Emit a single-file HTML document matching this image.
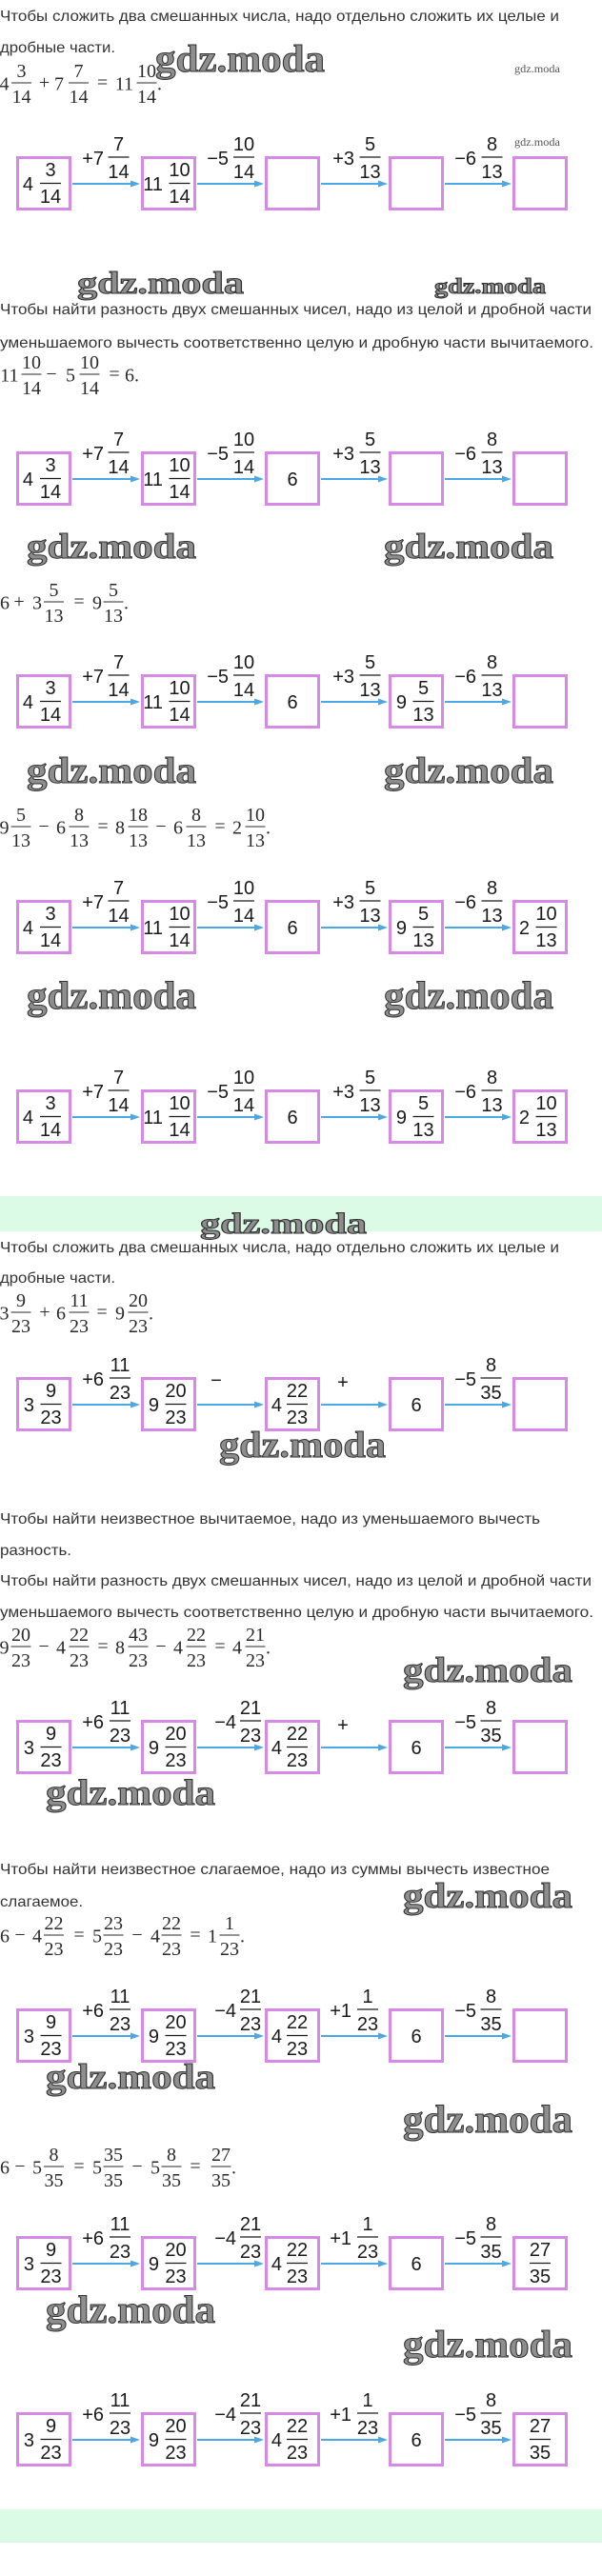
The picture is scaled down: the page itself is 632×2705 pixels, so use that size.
<!DOCTYPE html>
<html><head><meta charset="utf-8"><style>
body{margin:0;background:#fff}
svg{display:block}
.p{font-family:"Liberation Sans",sans-serif;font-size:16px;fill:#333}
.m{font-family:"Liberation Serif",serif;font-size:20px;fill:#2a2a2a}
.d{font-family:"Liberation Sans",sans-serif;font-size:20px;fill:#1a1a1a}
.bx{fill:none;stroke:#d68ae6;stroke-width:3}
.ar{stroke:#4aa8e6;stroke-width:2}
.ah{fill:#4aa8e6}
.fb{stroke:#1a1a1a;stroke-width:1.3}
.mb{stroke:#2a2a2a;stroke-width:1}
.w{font-family:"Liberation Serif",serif;font-weight:bold;fill:#8e8e8e;stroke:#303030;stroke-width:1}
.ws{font-family:"Liberation Serif",serif;font-size:12px;fill:#555}
.e{text-anchor:end}.c{text-anchor:middle}
</style></head><body>
<svg width="632" height="2705" viewBox="0 0 632 2705" xmlns="http://www.w3.org/2000/svg">
<rect x="0" y="0" width="632" height="2705" fill="#fff"/>
<rect x="0" y="1256" width="632" height="37" fill="#dcfbe6"/>
<rect x="0" y="2635" width="632" height="35" fill="#dcfbe6"/>

<!-- Paragraph text -->
<text class="p" x="0" y="22" textLength="587" lengthAdjust="spacingAndGlyphs">Чтобы сложить два смешанных числа, надо отдельно сложить их целые и</text>
<text class="p" x="0" y="55" textLength="121" lengthAdjust="spacingAndGlyphs">дробные части.</text>
<text class="p" x="0" y="330" textLength="621" lengthAdjust="spacingAndGlyphs">Чтобы найти разность двух смешанных чисел, надо из целой и дробной части</text>
<text class="p" x="0" y="365" textLength="623" lengthAdjust="spacingAndGlyphs">уменьшаемого вычесть соответственно целую и дробную части вычитаемого.</text>
<text class="p" x="0" y="1315" textLength="587" lengthAdjust="spacingAndGlyphs">Чтобы сложить два смешанных числа, надо отдельно сложить их целые и</text>
<text class="p" x="0" y="1347" textLength="121" lengthAdjust="spacingAndGlyphs">дробные части.</text>
<text class="p" x="0" y="1600" textLength="567" lengthAdjust="spacingAndGlyphs">Чтобы найти неизвестное вычитаемое, надо из уменьшаемого вычесть</text>
<text class="p" x="0" y="1633" textLength="75" lengthAdjust="spacingAndGlyphs">разность.</text>
<text class="p" x="0" y="1665" textLength="621" lengthAdjust="spacingAndGlyphs">Чтобы найти разность двух смешанных чисел, надо из целой и дробной части</text>
<text class="p" x="0" y="1698" textLength="623" lengthAdjust="spacingAndGlyphs">уменьшаемого вычесть соответственно целую и дробную части вычитаемого.</text>
<text class="p" x="0" y="1968" textLength="577" lengthAdjust="spacingAndGlyphs">Чтобы найти неизвестное слагаемое, надо из суммы вычесть известное</text>
<text class="p" x="0" y="2002" textLength="87" lengthAdjust="spacingAndGlyphs">слагаемое.</text>

<!-- Formula 1 -->
<g transform="translate(0,87)">
<text class="m e" x="9.5" y="7.5">4</text>
<text class="m c" x="22.5" y="-6">3</text><line class="mb" x1="12" y1="0" x2="33" y2="0"/><text class="m c" x="22.5" y="21">14</text>
<text class="m c" x="46.5" y="6">+</text>
<text class="m e" x="67" y="7.5">7</text>
<text class="m c" x="82.5" y="-6">7</text><line class="mb" x1="72" y1="0" x2="93" y2="0"/><text class="m c" x="82.5" y="21">14</text>
<text class="m c" x="107.5" y="6">=</text>
<text class="m e" x="140" y="7.5">11</text>
<text class="m c" x="154" y="-6">10</text><line class="mb" x1="143.5" y1="0" x2="164.5" y2="0"/><text class="m c" x="154" y="21">14</text>
<text class="m" x="165" y="7.5">.</text>
</g>

<!-- Formula 2 -->
<g transform="translate(0,393)">
<text class="m e" x="19.5" y="7.5">11</text>
<text class="m c" x="33" y="-6">10</text><line class="mb" x1="22.5" y1="0" x2="43.5" y2="0"/><text class="m c" x="33" y="21">14</text>
<text class="m c" x="54" y="6">−</text>
<text class="m e" x="79" y="7.5">5</text>
<text class="m c" x="94" y="-6">10</text><line class="mb" x1="83.5" y1="0" x2="104.5" y2="0"/><text class="m c" x="94" y="21">14</text>
<text class="m c" x="120" y="6">=</text>
<text class="m" x="131" y="7.5">6.</text>
</g>

<!-- Formula 3 -->
<g transform="translate(0,632)">
<text class="m e" x="10" y="7.5">6</text>
<text class="m c" x="20" y="6">+</text>
<text class="m e" x="44" y="7.5">3</text>
<text class="m c" x="56.5" y="-6">5</text><line class="mb" x1="46" y1="0" x2="67" y2="0"/><text class="m c" x="56.5" y="21">13</text>
<text class="m c" x="83" y="6">=</text>
<text class="m e" x="107" y="7.5">9</text>
<text class="m c" x="119" y="-6">5</text><line class="mb" x1="108.5" y1="0" x2="129.5" y2="0"/><text class="m c" x="119" y="21">13</text>
<text class="m" x="130" y="7.5">.</text>
</g>

<!-- Formula 4 -->
<g transform="translate(0,868)">
<text class="m e" x="9.5" y="7.5">9</text>
<text class="m c" x="22" y="-6">5</text><line class="mb" x1="11.5" y1="0" x2="32.5" y2="0"/><text class="m c" x="22" y="21">13</text>
<text class="m c" x="46" y="6">−</text>
<text class="m e" x="69" y="7.5">6</text>
<text class="m c" x="83" y="-6">8</text><line class="mb" x1="72.5" y1="0" x2="93.5" y2="0"/><text class="m c" x="83" y="21">13</text>
<text class="m c" x="108" y="6">=</text>
<text class="m e" x="131" y="7.5">8</text>
<text class="m c" x="145" y="-6">18</text><line class="mb" x1="134.5" y1="0" x2="155.5" y2="0"/><text class="m c" x="145" y="21">13</text>
<text class="m c" x="169" y="6">−</text>
<text class="m e" x="192" y="7.5">6</text>
<text class="m c" x="206" y="-6">8</text><line class="mb" x1="195.5" y1="0" x2="216.5" y2="0"/><text class="m c" x="206" y="21">13</text>
<text class="m c" x="231" y="6">=</text>
<text class="m e" x="254" y="7.5">2</text>
<text class="m c" x="268" y="-6">10</text><line class="mb" x1="257.5" y1="0" x2="278.5" y2="0"/><text class="m c" x="268" y="21">13</text>
<text class="m" x="279" y="7.5">.</text>
</g>

<!-- Formula 5 -->
<g transform="translate(0,1378)">
<text class="m e" x="9.5" y="7.5">3</text>
<text class="m c" x="22" y="-6">9</text><line class="mb" x1="11.5" y1="0" x2="32.5" y2="0"/><text class="m c" x="22" y="21">23</text>
<text class="m c" x="47" y="6">+</text>
<text class="m e" x="69" y="7.5">6</text>
<text class="m c" x="83" y="-6">11</text><line class="mb" x1="72.5" y1="0" x2="93.5" y2="0"/><text class="m c" x="83" y="21">23</text>
<text class="m c" x="107" y="6">=</text>
<text class="m e" x="131" y="7.5">9</text>
<text class="m c" x="145" y="-6">20</text><line class="mb" x1="134.5" y1="0" x2="155.5" y2="0"/><text class="m c" x="145" y="21">23</text>
<text class="m" x="156" y="7.5">.</text>
</g>

<!-- Formula 6 -->
<g transform="translate(0,1729)">
<text class="m e" x="9.5" y="7.5">9</text>
<text class="m c" x="22" y="-6">20</text><line class="mb" x1="11.5" y1="0" x2="32.5" y2="0"/><text class="m c" x="22" y="21">23</text>
<text class="m c" x="46" y="6">−</text>
<text class="m e" x="69" y="7.5">4</text>
<text class="m c" x="83" y="-6">22</text><line class="mb" x1="72.5" y1="0" x2="93.5" y2="0"/><text class="m c" x="83" y="21">23</text>
<text class="m c" x="108" y="6">=</text>
<text class="m e" x="131" y="7.5">8</text>
<text class="m c" x="145" y="-6">43</text><line class="mb" x1="134.5" y1="0" x2="155.5" y2="0"/><text class="m c" x="145" y="21">23</text>
<text class="m c" x="169" y="6">−</text>
<text class="m e" x="192" y="7.5">4</text>
<text class="m c" x="206" y="-6">22</text><line class="mb" x1="195.5" y1="0" x2="216.5" y2="0"/><text class="m c" x="206" y="21">23</text>
<text class="m c" x="231" y="6">=</text>
<text class="m e" x="254" y="7.5">4</text>
<text class="m c" x="268" y="-6">21</text><line class="mb" x1="257.5" y1="0" x2="278.5" y2="0"/><text class="m c" x="268" y="21">23</text>
<text class="m" x="279" y="7.5">.</text>
</g>

<!-- Formula 7 -->
<g transform="translate(0,2032)">
<text class="m e" x="10" y="7.5">6</text>
<text class="m c" x="21" y="6">−</text>
<text class="m e" x="44" y="7.5">4</text>
<text class="m c" x="56.5" y="-6">22</text><line class="mb" x1="46" y1="0" x2="67" y2="0"/><text class="m c" x="56.5" y="21">23</text>
<text class="m c" x="83" y="6">=</text>
<text class="m e" x="107" y="7.5">5</text>
<text class="m c" x="119" y="-6">23</text><line class="mb" x1="108.5" y1="0" x2="129.5" y2="0"/><text class="m c" x="119" y="21">23</text>
<text class="m c" x="144" y="6">−</text>
<text class="m e" x="168" y="7.5">4</text>
<text class="m c" x="180" y="-6">22</text><line class="mb" x1="169.5" y1="0" x2="190.5" y2="0"/><text class="m c" x="180" y="21">23</text>
<text class="m c" x="205" y="6">=</text>
<text class="m e" x="228" y="7.5">1</text>
<text class="m c" x="241" y="-6">1</text><line class="mb" x1="230.5" y1="0" x2="251.5" y2="0"/><text class="m c" x="241" y="21">23</text>
<text class="m" x="252" y="7.5">.</text>
</g>

<!-- Formula 8 -->
<g transform="translate(0,2275)">
<text class="m e" x="10" y="7.5">6</text>
<text class="m c" x="21" y="6">−</text>
<text class="m e" x="44" y="7.5">5</text>
<text class="m c" x="56.5" y="-6">8</text><line class="mb" x1="46" y1="0" x2="67" y2="0"/><text class="m c" x="56.5" y="21">35</text>
<text class="m c" x="83" y="6">=</text>
<text class="m e" x="107" y="7.5">5</text>
<text class="m c" x="119" y="-6">35</text><line class="mb" x1="108.5" y1="0" x2="129.5" y2="0"/><text class="m c" x="119" y="21">35</text>
<text class="m c" x="144" y="6">−</text>
<text class="m e" x="168" y="7.5">5</text>
<text class="m c" x="180" y="-6">8</text><line class="mb" x1="169.5" y1="0" x2="190.5" y2="0"/><text class="m c" x="180" y="21">35</text>
<text class="m c" x="205" y="6">=</text>
<text class="m c" x="232" y="-6">27</text><line class="mb" x1="221.5" y1="0" x2="242.5" y2="0"/><text class="m c" x="232" y="21">35</text>
<text class="m" x="243" y="7.5">.</text>
</g>

<!-- ROW 1 -->
<g transform="translate(0,164)">
<rect class="bx" x="18.5" y="1.5" width="55" height="54"/><rect class="bx" x="149.5" y="1.5" width="55" height="54"/><rect class="bx" x="279.5" y="1.5" width="55" height="54"/><rect class="bx" x="409.5" y="1.5" width="55" height="54"/><rect class="bx" x="539.5" y="1.5" width="55" height="54"/>
<line class="ar" x1="76" y1="29" x2="139" y2="29"/><polygon class="ah" points="137,25.5 147,29 137,32.5"/>
<line class="ar" x1="207" y1="29" x2="269" y2="29"/><polygon class="ah" points="267,25.5 277,29 267,32.5"/>
<line class="ar" x1="337" y1="29" x2="399" y2="29"/><polygon class="ah" points="397,25.5 407,29 397,32.5"/>
<line class="ar" x1="467" y1="29" x2="529" y2="29"/><polygon class="ah" points="527,25.5 537,29 527,32.5"/>
<text class="d e" x="109" y="9">+7</text><text class="d c" x="124.5" y="-6">7</text><line class="fb" x1="113.5" y1="1" x2="135.5" y2="1"/><text class="d c" x="124.5" y="23">14</text>
<text class="d e" x="240" y="9">−5</text><text class="d c" x="256" y="-6">10</text><line class="fb" x1="245" y1="1" x2="267" y2="1"/><text class="d c" x="256" y="23">14</text>
<text class="d e" x="372" y="9">+3</text><text class="d c" x="388.5" y="-6">5</text><line class="fb" x1="377.5" y1="1" x2="399.5" y2="1"/><text class="d c" x="388.5" y="23">13</text>
<text class="d e" x="500" y="9">−6</text><text class="d c" x="516.5" y="-6">8</text><line class="fb" x1="505.5" y1="1" x2="527.5" y2="1"/><text class="d c" x="516.5" y="23">13</text>
<text class="d e" x="35" y="36">4</text><text class="d c" x="53" y="21">3</text><line class="fb" x1="42" y1="28.5" x2="64" y2="28.5"/><text class="d c" x="53" y="49">14</text>
<text class="d e" x="171" y="36">11</text><text class="d c" x="188.5" y="21">10</text><line class="fb" x1="177.5" y1="28.5" x2="199.5" y2="28.5"/><text class="d c" x="188.5" y="49">14</text>
</g>

<!-- ROW 2 -->
<g transform="translate(0,474)">
<rect class="bx" x="18.5" y="1.5" width="55" height="54"/><rect class="bx" x="149.5" y="1.5" width="55" height="54"/><rect class="bx" x="279.5" y="1.5" width="55" height="54"/><rect class="bx" x="409.5" y="1.5" width="55" height="54"/><rect class="bx" x="539.5" y="1.5" width="55" height="54"/>
<line class="ar" x1="76" y1="29" x2="139" y2="29"/><polygon class="ah" points="137,25.5 147,29 137,32.5"/>
<line class="ar" x1="207" y1="29" x2="269" y2="29"/><polygon class="ah" points="267,25.5 277,29 267,32.5"/>
<line class="ar" x1="337" y1="29" x2="399" y2="29"/><polygon class="ah" points="397,25.5 407,29 397,32.5"/>
<line class="ar" x1="467" y1="29" x2="529" y2="29"/><polygon class="ah" points="527,25.5 537,29 527,32.5"/>
<text class="d e" x="109" y="9">+7</text><text class="d c" x="124.5" y="-6">7</text><line class="fb" x1="113.5" y1="1" x2="135.5" y2="1"/><text class="d c" x="124.5" y="23">14</text>
<text class="d e" x="240" y="9">−5</text><text class="d c" x="256" y="-6">10</text><line class="fb" x1="245" y1="1" x2="267" y2="1"/><text class="d c" x="256" y="23">14</text>
<text class="d e" x="372" y="9">+3</text><text class="d c" x="388.5" y="-6">5</text><line class="fb" x1="377.5" y1="1" x2="399.5" y2="1"/><text class="d c" x="388.5" y="23">13</text>
<text class="d e" x="500" y="9">−6</text><text class="d c" x="516.5" y="-6">8</text><line class="fb" x1="505.5" y1="1" x2="527.5" y2="1"/><text class="d c" x="516.5" y="23">13</text>
<text class="d e" x="35" y="36">4</text><text class="d c" x="53" y="21">3</text><line class="fb" x1="42" y1="28.5" x2="64" y2="28.5"/><text class="d c" x="53" y="49">14</text>
<text class="d e" x="171" y="36">11</text><text class="d c" x="188.5" y="21">10</text><line class="fb" x1="177.5" y1="28.5" x2="199.5" y2="28.5"/><text class="d c" x="188.5" y="49">14</text>
<text class="d c" x="307" y="36">6</text>
</g>

<!-- ROW 3 -->
<g transform="translate(0,708)">
<rect class="bx" x="18.5" y="1.5" width="55" height="54"/><rect class="bx" x="149.5" y="1.5" width="55" height="54"/><rect class="bx" x="279.5" y="1.5" width="55" height="54"/><rect class="bx" x="409.5" y="1.5" width="55" height="54"/><rect class="bx" x="539.5" y="1.5" width="55" height="54"/>
<line class="ar" x1="76" y1="29" x2="139" y2="29"/><polygon class="ah" points="137,25.5 147,29 137,32.5"/>
<line class="ar" x1="207" y1="29" x2="269" y2="29"/><polygon class="ah" points="267,25.5 277,29 267,32.5"/>
<line class="ar" x1="337" y1="29" x2="399" y2="29"/><polygon class="ah" points="397,25.5 407,29 397,32.5"/>
<line class="ar" x1="467" y1="29" x2="529" y2="29"/><polygon class="ah" points="527,25.5 537,29 527,32.5"/>
<text class="d e" x="109" y="9">+7</text><text class="d c" x="124.5" y="-6">7</text><line class="fb" x1="113.5" y1="1" x2="135.5" y2="1"/><text class="d c" x="124.5" y="23">14</text>
<text class="d e" x="240" y="9">−5</text><text class="d c" x="256" y="-6">10</text><line class="fb" x1="245" y1="1" x2="267" y2="1"/><text class="d c" x="256" y="23">14</text>
<text class="d e" x="372" y="9">+3</text><text class="d c" x="388.5" y="-6">5</text><line class="fb" x1="377.5" y1="1" x2="399.5" y2="1"/><text class="d c" x="388.5" y="23">13</text>
<text class="d e" x="500" y="9">−6</text><text class="d c" x="516.5" y="-6">8</text><line class="fb" x1="505.5" y1="1" x2="527.5" y2="1"/><text class="d c" x="516.5" y="23">13</text>
<text class="d e" x="35" y="36">4</text><text class="d c" x="53" y="21">3</text><line class="fb" x1="42" y1="28.5" x2="64" y2="28.5"/><text class="d c" x="53" y="49">14</text>
<text class="d e" x="171" y="36">11</text><text class="d c" x="188.5" y="21">10</text><line class="fb" x1="177.5" y1="28.5" x2="199.5" y2="28.5"/><text class="d c" x="188.5" y="49">14</text>
<text class="d c" x="307" y="36">6</text>
<text class="d e" x="427" y="36">9</text><text class="d c" x="444.5" y="21">5</text><line class="fb" x1="433.5" y1="28.5" x2="455.5" y2="28.5"/><text class="d c" x="444.5" y="49">13</text>
</g>

<!-- ROW 4 -->
<g transform="translate(0,945)">
<rect class="bx" x="18.5" y="1.5" width="55" height="54"/><rect class="bx" x="149.5" y="1.5" width="55" height="54"/><rect class="bx" x="279.5" y="1.5" width="55" height="54"/><rect class="bx" x="409.5" y="1.5" width="55" height="54"/><rect class="bx" x="539.5" y="1.5" width="55" height="54"/>
<line class="ar" x1="76" y1="29" x2="139" y2="29"/><polygon class="ah" points="137,25.5 147,29 137,32.5"/>
<line class="ar" x1="207" y1="29" x2="269" y2="29"/><polygon class="ah" points="267,25.5 277,29 267,32.5"/>
<line class="ar" x1="337" y1="29" x2="399" y2="29"/><polygon class="ah" points="397,25.5 407,29 397,32.5"/>
<line class="ar" x1="467" y1="29" x2="529" y2="29"/><polygon class="ah" points="527,25.5 537,29 527,32.5"/>
<text class="d e" x="109" y="9">+7</text><text class="d c" x="124.5" y="-6">7</text><line class="fb" x1="113.5" y1="1" x2="135.5" y2="1"/><text class="d c" x="124.5" y="23">14</text>
<text class="d e" x="240" y="9">−5</text><text class="d c" x="256" y="-6">10</text><line class="fb" x1="245" y1="1" x2="267" y2="1"/><text class="d c" x="256" y="23">14</text>
<text class="d e" x="372" y="9">+3</text><text class="d c" x="388.5" y="-6">5</text><line class="fb" x1="377.5" y1="1" x2="399.5" y2="1"/><text class="d c" x="388.5" y="23">13</text>
<text class="d e" x="500" y="9">−6</text><text class="d c" x="516.5" y="-6">8</text><line class="fb" x1="505.5" y1="1" x2="527.5" y2="1"/><text class="d c" x="516.5" y="23">13</text>
<text class="d e" x="35" y="36">4</text><text class="d c" x="53" y="21">3</text><line class="fb" x1="42" y1="28.5" x2="64" y2="28.5"/><text class="d c" x="53" y="49">14</text>
<text class="d e" x="171" y="36">11</text><text class="d c" x="188.5" y="21">10</text><line class="fb" x1="177.5" y1="28.5" x2="199.5" y2="28.5"/><text class="d c" x="188.5" y="49">14</text>
<text class="d c" x="307" y="36">6</text>
<text class="d e" x="427" y="36">9</text><text class="d c" x="444.5" y="21">5</text><line class="fb" x1="433.5" y1="28.5" x2="455.5" y2="28.5"/><text class="d c" x="444.5" y="49">13</text>
<text class="d e" x="556" y="36">2</text><text class="d c" x="573.5" y="21">10</text><line class="fb" x1="562.5" y1="28.5" x2="584.5" y2="28.5"/><text class="d c" x="573.5" y="49">13</text>
</g>

<!-- ROW 5 -->
<g transform="translate(0,1144)">
<rect class="bx" x="18.5" y="1.5" width="55" height="54"/><rect class="bx" x="149.5" y="1.5" width="55" height="54"/><rect class="bx" x="279.5" y="1.5" width="55" height="54"/><rect class="bx" x="409.5" y="1.5" width="55" height="54"/><rect class="bx" x="539.5" y="1.5" width="55" height="54"/>
<line class="ar" x1="76" y1="29" x2="139" y2="29"/><polygon class="ah" points="137,25.5 147,29 137,32.5"/>
<line class="ar" x1="207" y1="29" x2="269" y2="29"/><polygon class="ah" points="267,25.5 277,29 267,32.5"/>
<line class="ar" x1="337" y1="29" x2="399" y2="29"/><polygon class="ah" points="397,25.5 407,29 397,32.5"/>
<line class="ar" x1="467" y1="29" x2="529" y2="29"/><polygon class="ah" points="527,25.5 537,29 527,32.5"/>
<text class="d e" x="109" y="9">+7</text><text class="d c" x="124.5" y="-6">7</text><line class="fb" x1="113.5" y1="1" x2="135.5" y2="1"/><text class="d c" x="124.5" y="23">14</text>
<text class="d e" x="240" y="9">−5</text><text class="d c" x="256" y="-6">10</text><line class="fb" x1="245" y1="1" x2="267" y2="1"/><text class="d c" x="256" y="23">14</text>
<text class="d e" x="372" y="9">+3</text><text class="d c" x="388.5" y="-6">5</text><line class="fb" x1="377.5" y1="1" x2="399.5" y2="1"/><text class="d c" x="388.5" y="23">13</text>
<text class="d e" x="500" y="9">−6</text><text class="d c" x="516.5" y="-6">8</text><line class="fb" x1="505.5" y1="1" x2="527.5" y2="1"/><text class="d c" x="516.5" y="23">13</text>
<text class="d e" x="35" y="36">4</text><text class="d c" x="53" y="21">3</text><line class="fb" x1="42" y1="28.5" x2="64" y2="28.5"/><text class="d c" x="53" y="49">14</text>
<text class="d e" x="171" y="36">11</text><text class="d c" x="188.5" y="21">10</text><line class="fb" x1="177.5" y1="28.5" x2="199.5" y2="28.5"/><text class="d c" x="188.5" y="49">14</text>
<text class="d c" x="307" y="36">6</text>
<text class="d e" x="427" y="36">9</text><text class="d c" x="444.5" y="21">5</text><line class="fb" x1="433.5" y1="28.5" x2="455.5" y2="28.5"/><text class="d c" x="444.5" y="49">13</text>
<text class="d e" x="556" y="36">2</text><text class="d c" x="573.5" y="21">10</text><line class="fb" x1="562.5" y1="28.5" x2="584.5" y2="28.5"/><text class="d c" x="573.5" y="49">13</text>
</g>

<!-- ROW 6 -->
<g transform="translate(0,1446)">
<rect class="bx" x="18.5" y="1.5" width="55" height="54"/><rect class="bx" x="149.5" y="1.5" width="55" height="54"/><rect class="bx" x="279.5" y="1.5" width="55" height="54"/><rect class="bx" x="409.5" y="1.5" width="55" height="54"/><rect class="bx" x="539.5" y="1.5" width="55" height="54"/>
<line class="ar" x1="76" y1="29" x2="139" y2="29"/><polygon class="ah" points="137,25.5 147,29 137,32.5"/>
<line class="ar" x1="207" y1="29" x2="269" y2="29"/><polygon class="ah" points="267,25.5 277,29 267,32.5"/>
<line class="ar" x1="337" y1="29" x2="399" y2="29"/><polygon class="ah" points="397,25.5 407,29 397,32.5"/>
<line class="ar" x1="467" y1="29" x2="529" y2="29"/><polygon class="ah" points="527,25.5 537,29 527,32.5"/>
<text class="d e" x="109" y="9">+6</text><text class="d c" x="126" y="-6">11</text><line class="fb" x1="115" y1="1" x2="137" y2="1"/><text class="d c" x="126" y="23">23</text>
<text class="d c" x="227" y="10">−</text>
<text class="d c" x="360" y="12">+</text>
<text class="d e" x="500" y="9">−5</text><text class="d c" x="515.5" y="-6">8</text><line class="fb" x1="504.5" y1="1" x2="526.5" y2="1"/><text class="d c" x="515.5" y="23">35</text>
<text class="d e" x="36" y="36">3</text><text class="d c" x="53.5" y="21">9</text><line class="fb" x1="42.5" y1="28.5" x2="64.5" y2="28.5"/><text class="d c" x="53.5" y="49">23</text>
<text class="d e" x="167" y="36">9</text><text class="d c" x="184.5" y="21">20</text><line class="fb" x1="173.5" y1="28.5" x2="195.5" y2="28.5"/><text class="d c" x="184.5" y="49">23</text>
<text class="d e" x="296" y="36">4</text><text class="d c" x="312" y="21">22</text><line class="fb" x1="301" y1="28.5" x2="323" y2="28.5"/><text class="d c" x="312" y="49">23</text>
<text class="d c" x="437" y="36">6</text>
</g>

<!-- ROW 7 -->
<g transform="translate(0,1806)">
<rect class="bx" x="18.5" y="1.5" width="55" height="54"/><rect class="bx" x="149.5" y="1.5" width="55" height="54"/><rect class="bx" x="279.5" y="1.5" width="55" height="54"/><rect class="bx" x="409.5" y="1.5" width="55" height="54"/><rect class="bx" x="539.5" y="1.5" width="55" height="54"/>
<line class="ar" x1="76" y1="29" x2="139" y2="29"/><polygon class="ah" points="137,25.5 147,29 137,32.5"/>
<line class="ar" x1="207" y1="29" x2="269" y2="29"/><polygon class="ah" points="267,25.5 277,29 267,32.5"/>
<line class="ar" x1="337" y1="29" x2="399" y2="29"/><polygon class="ah" points="397,25.5 407,29 397,32.5"/>
<line class="ar" x1="467" y1="29" x2="529" y2="29"/><polygon class="ah" points="527,25.5 537,29 527,32.5"/>
<text class="d e" x="109" y="9">+6</text><text class="d c" x="126" y="-6">11</text><line class="fb" x1="115" y1="1" x2="137" y2="1"/><text class="d c" x="126" y="23">23</text>
<text class="d e" x="248" y="9">−4</text><text class="d c" x="263" y="-6">21</text><line class="fb" x1="252" y1="1" x2="274" y2="1"/><text class="d c" x="263" y="23">23</text>
<text class="d c" x="360" y="12">+</text>
<text class="d e" x="500" y="9">−5</text><text class="d c" x="515.5" y="-6">8</text><line class="fb" x1="504.5" y1="1" x2="526.5" y2="1"/><text class="d c" x="515.5" y="23">35</text>
<text class="d e" x="36" y="36">3</text><text class="d c" x="53.5" y="21">9</text><line class="fb" x1="42.5" y1="28.5" x2="64.5" y2="28.5"/><text class="d c" x="53.5" y="49">23</text>
<text class="d e" x="167" y="36">9</text><text class="d c" x="184.5" y="21">20</text><line class="fb" x1="173.5" y1="28.5" x2="195.5" y2="28.5"/><text class="d c" x="184.5" y="49">23</text>
<text class="d e" x="296" y="36">4</text><text class="d c" x="312" y="21">22</text><line class="fb" x1="301" y1="28.5" x2="323" y2="28.5"/><text class="d c" x="312" y="49">23</text>
<text class="d c" x="437" y="36">6</text>
</g>

<!-- ROW 8 -->
<g transform="translate(0,2109)">
<rect class="bx" x="18.5" y="1.5" width="55" height="54"/><rect class="bx" x="149.5" y="1.5" width="55" height="54"/><rect class="bx" x="279.5" y="1.5" width="55" height="54"/><rect class="bx" x="409.5" y="1.5" width="55" height="54"/><rect class="bx" x="539.5" y="1.5" width="55" height="54"/>
<line class="ar" x1="76" y1="29" x2="139" y2="29"/><polygon class="ah" points="137,25.5 147,29 137,32.5"/>
<line class="ar" x1="207" y1="29" x2="269" y2="29"/><polygon class="ah" points="267,25.5 277,29 267,32.5"/>
<line class="ar" x1="337" y1="29" x2="399" y2="29"/><polygon class="ah" points="397,25.5 407,29 397,32.5"/>
<line class="ar" x1="467" y1="29" x2="529" y2="29"/><polygon class="ah" points="527,25.5 537,29 527,32.5"/>
<text class="d e" x="109" y="9">+6</text><text class="d c" x="126" y="-6">11</text><line class="fb" x1="115" y1="1" x2="137" y2="1"/><text class="d c" x="126" y="23">23</text>
<text class="d e" x="248" y="9">−4</text><text class="d c" x="263" y="-6">21</text><line class="fb" x1="252" y1="1" x2="274" y2="1"/><text class="d c" x="263" y="23">23</text>
<text class="d e" x="369" y="9">+1</text><text class="d c" x="386" y="-6">1</text><line class="fb" x1="375" y1="1" x2="397" y2="1"/><text class="d c" x="386" y="23">23</text>
<text class="d e" x="500" y="9">−5</text><text class="d c" x="515.5" y="-6">8</text><line class="fb" x1="504.5" y1="1" x2="526.5" y2="1"/><text class="d c" x="515.5" y="23">35</text>
<text class="d e" x="36" y="36">3</text><text class="d c" x="53.5" y="21">9</text><line class="fb" x1="42.5" y1="28.5" x2="64.5" y2="28.5"/><text class="d c" x="53.5" y="49">23</text>
<text class="d e" x="167" y="36">9</text><text class="d c" x="184.5" y="21">20</text><line class="fb" x1="173.5" y1="28.5" x2="195.5" y2="28.5"/><text class="d c" x="184.5" y="49">23</text>
<text class="d e" x="296" y="36">4</text><text class="d c" x="312" y="21">22</text><line class="fb" x1="301" y1="28.5" x2="323" y2="28.5"/><text class="d c" x="312" y="49">23</text>
<text class="d c" x="437" y="36">6</text>
</g>

<!-- ROW 9 -->
<g transform="translate(0,2348)">
<rect class="bx" x="18.5" y="1.5" width="55" height="54"/><rect class="bx" x="149.5" y="1.5" width="55" height="54"/><rect class="bx" x="279.5" y="1.5" width="55" height="54"/><rect class="bx" x="409.5" y="1.5" width="55" height="54"/><rect class="bx" x="539.5" y="1.5" width="55" height="54"/>
<line class="ar" x1="76" y1="29" x2="139" y2="29"/><polygon class="ah" points="137,25.5 147,29 137,32.5"/>
<line class="ar" x1="207" y1="29" x2="269" y2="29"/><polygon class="ah" points="267,25.5 277,29 267,32.5"/>
<line class="ar" x1="337" y1="29" x2="399" y2="29"/><polygon class="ah" points="397,25.5 407,29 397,32.5"/>
<line class="ar" x1="467" y1="29" x2="529" y2="29"/><polygon class="ah" points="527,25.5 537,29 527,32.5"/>
<text class="d e" x="109" y="9">+6</text><text class="d c" x="126" y="-6">11</text><line class="fb" x1="115" y1="1" x2="137" y2="1"/><text class="d c" x="126" y="23">23</text>
<text class="d e" x="248" y="9">−4</text><text class="d c" x="263" y="-6">21</text><line class="fb" x1="252" y1="1" x2="274" y2="1"/><text class="d c" x="263" y="23">23</text>
<text class="d e" x="369" y="9">+1</text><text class="d c" x="386" y="-6">1</text><line class="fb" x1="375" y1="1" x2="397" y2="1"/><text class="d c" x="386" y="23">23</text>
<text class="d e" x="500" y="9">−5</text><text class="d c" x="515.5" y="-6">8</text><line class="fb" x1="504.5" y1="1" x2="526.5" y2="1"/><text class="d c" x="515.5" y="23">35</text>
<text class="d e" x="36" y="36">3</text><text class="d c" x="53.5" y="21">9</text><line class="fb" x1="42.5" y1="28.5" x2="64.5" y2="28.5"/><text class="d c" x="53.5" y="49">23</text>
<text class="d e" x="167" y="36">9</text><text class="d c" x="184.5" y="21">20</text><line class="fb" x1="173.5" y1="28.5" x2="195.5" y2="28.5"/><text class="d c" x="184.5" y="49">23</text>
<text class="d e" x="296" y="36">4</text><text class="d c" x="312" y="21">22</text><line class="fb" x1="301" y1="28.5" x2="323" y2="28.5"/><text class="d c" x="312" y="49">23</text>
<text class="d c" x="437" y="36">6</text>
<text class="d c" x="567" y="21">27</text><line class="fb" x1="556" y1="28.5" x2="578" y2="28.5"/><text class="d c" x="567" y="49">35</text>
</g>

<!-- ROW 10 -->
<g transform="translate(0,2533)">
<rect class="bx" x="18.5" y="1.5" width="55" height="54"/><rect class="bx" x="149.5" y="1.5" width="55" height="54"/><rect class="bx" x="279.5" y="1.5" width="55" height="54"/><rect class="bx" x="409.5" y="1.5" width="55" height="54"/><rect class="bx" x="539.5" y="1.5" width="55" height="54"/>
<line class="ar" x1="76" y1="29" x2="139" y2="29"/><polygon class="ah" points="137,25.5 147,29 137,32.5"/>
<line class="ar" x1="207" y1="29" x2="269" y2="29"/><polygon class="ah" points="267,25.5 277,29 267,32.5"/>
<line class="ar" x1="337" y1="29" x2="399" y2="29"/><polygon class="ah" points="397,25.5 407,29 397,32.5"/>
<line class="ar" x1="467" y1="29" x2="529" y2="29"/><polygon class="ah" points="527,25.5 537,29 527,32.5"/>
<text class="d e" x="109" y="9">+6</text><text class="d c" x="126" y="-6">11</text><line class="fb" x1="115" y1="1" x2="137" y2="1"/><text class="d c" x="126" y="23">23</text>
<text class="d e" x="248" y="9">−4</text><text class="d c" x="263" y="-6">21</text><line class="fb" x1="252" y1="1" x2="274" y2="1"/><text class="d c" x="263" y="23">23</text>
<text class="d e" x="369" y="9">+1</text><text class="d c" x="386" y="-6">1</text><line class="fb" x1="375" y1="1" x2="397" y2="1"/><text class="d c" x="386" y="23">23</text>
<text class="d e" x="500" y="9">−5</text><text class="d c" x="515.5" y="-6">8</text><line class="fb" x1="504.5" y1="1" x2="526.5" y2="1"/><text class="d c" x="515.5" y="23">35</text>
<text class="d e" x="36" y="36">3</text><text class="d c" x="53.5" y="21">9</text><line class="fb" x1="42.5" y1="28.5" x2="64.5" y2="28.5"/><text class="d c" x="53.5" y="49">23</text>
<text class="d e" x="167" y="36">9</text><text class="d c" x="184.5" y="21">20</text><line class="fb" x1="173.5" y1="28.5" x2="195.5" y2="28.5"/><text class="d c" x="184.5" y="49">23</text>
<text class="d e" x="296" y="36">4</text><text class="d c" x="312" y="21">22</text><line class="fb" x1="301" y1="28.5" x2="323" y2="28.5"/><text class="d c" x="312" y="49">23</text>
<text class="d c" x="437" y="36">6</text>
<text class="d c" x="567" y="21">27</text><line class="fb" x1="556" y1="28.5" x2="578" y2="28.5"/><text class="d c" x="567" y="49">35</text>
</g>

<!-- Watermarks -->
<text class="w" x="163" y="75" font-size="40" textLength="178" lengthAdjust="spacingAndGlyphs">gdz.moda</text>
<text class="ws" x="540" y="76" textLength="48" lengthAdjust="spacingAndGlyphs">gdz.moda</text>
<text class="ws" x="540" y="153" textLength="48" lengthAdjust="spacingAndGlyphs">gdz.moda</text>
<text class="w" x="81" y="308" font-size="33" textLength="175" lengthAdjust="spacingAndGlyphs">gdz.moda</text>
<text class="w" x="456" y="308" font-size="23" textLength="117" lengthAdjust="spacingAndGlyphs">gdz.moda</text>
<text class="w" x="28" y="586" font-size="37" textLength="178" lengthAdjust="spacingAndGlyphs">gdz.moda</text>
<text class="w" x="403" y="586" font-size="37" textLength="178" lengthAdjust="spacingAndGlyphs">gdz.moda</text>
<text class="w" x="28" y="822" font-size="39" textLength="178" lengthAdjust="spacingAndGlyphs">gdz.moda</text>
<text class="w" x="403" y="822" font-size="39" textLength="178" lengthAdjust="spacingAndGlyphs">gdz.moda</text>
<text class="w" x="28" y="1059" font-size="41" textLength="178" lengthAdjust="spacingAndGlyphs">gdz.moda</text>
<text class="w" x="403" y="1059" font-size="41" textLength="178" lengthAdjust="spacingAndGlyphs">gdz.moda</text>
<text class="w" x="210" y="1295" font-size="31" textLength="175" lengthAdjust="spacingAndGlyphs">gdz.moda</text>
<text class="w" x="230" y="1530" font-size="39" textLength="175" lengthAdjust="spacingAndGlyphs">gdz.moda</text>
<text class="w" x="423" y="1766" font-size="37" textLength="178" lengthAdjust="spacingAndGlyphs">gdz.moda</text>
<text class="w" x="48" y="1895" font-size="38" textLength="178" lengthAdjust="spacingAndGlyphs">gdz.moda</text>
<text class="w" x="423" y="2003" font-size="37" textLength="178" lengthAdjust="spacingAndGlyphs">gdz.moda</text>
<text class="w" x="48" y="2193" font-size="37" textLength="178" lengthAdjust="spacingAndGlyphs">gdz.moda</text>
<text class="w" x="423" y="2239" font-size="41" textLength="178" lengthAdjust="spacingAndGlyphs">gdz.moda</text>
<text class="w" x="48" y="2439" font-size="41" textLength="178" lengthAdjust="spacingAndGlyphs">gdz.moda</text>
<text class="w" x="423" y="2475" font-size="40" textLength="178" lengthAdjust="spacingAndGlyphs">gdz.moda</text>
</svg>
</body></html>
